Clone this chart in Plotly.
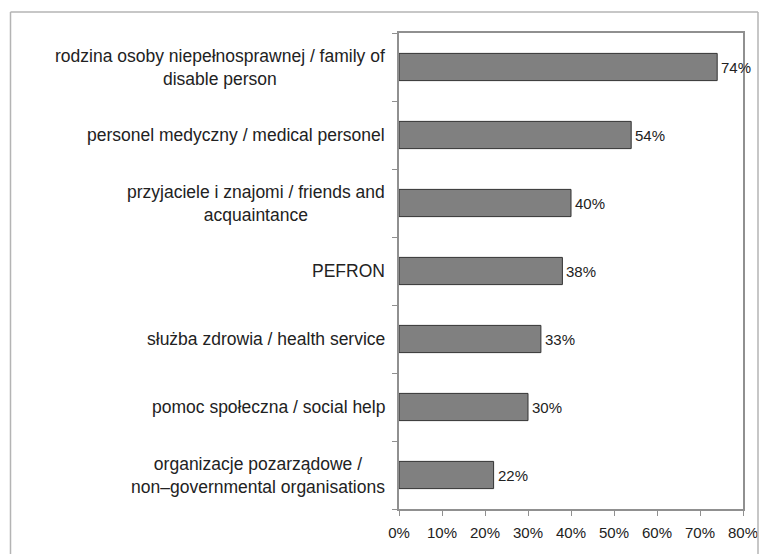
import plotly.graph_objects as go

# Sources of information, top to bottom
categories = [
    "rodzina osoby niepełnosprawnej / family of<br>disable person",
    "personel medyczny / medical personel",
    "przyjaciele i znajomi / friends and<br>acquaintance",
    "PEFRON",
    "służba zdrowia / health service",
    "pomoc społeczna / social help",
    "organizacje pozarządowe /<br>non–governmental organisations",
]
values = [74, 54, 40, 38, 33, 30, 22]
x_ticks = [0, 10, 20, 30, 40, 50, 60, 70, 80]

W, H = 759, 554
L, R, T, B = 399, 16, 33, 45
pw, ph = W - L - R, H - T - B

font_family = "Liberation Sans, Arial, sans-serif"
text_color = "#222222"

fig = go.Figure(
    go.Bar(
        y=categories,
        x=values,
        orientation="h",
        marker=dict(color="#808080", line=dict(color="#333333", width=1)),
        width=0.4,
        hoverinfo="x+y",
    )
)

# Category labels, centred line by line, block placed left of the axis
annotations = [
    dict(
        x=0, xref="paper", y=c, yref="y",
        text=c, showarrow=False, xanchor="right", align="center",
        xshift=-12,
        font=dict(family=font_family, size=17.5, color=text_color),
    )
    for c in categories
]
# Value labels just past the end of each bar
annotations += [
    dict(
        x=v, xref="x", y=c, yref="y",
        text=f"{v}%", showarrow=False, xanchor="left", xshift=2,
        font=dict(family=font_family, size=15, color=text_color),
    )
    for c, v in zip(categories, values)
]

# Outer chart frame
def px_x(p):
    return (p - L) / pw

def px_y(p):
    return 1 - (p - T) / ph

frame_color = "#b4b4b4"
shapes = [
    dict(type="line", xref="paper", yref="paper",
         x0=px_x(10.5), x1=px_x(758), y0=px_y(12), y1=px_y(12),
         line=dict(color=frame_color, width=1.5)),
    dict(type="line", xref="paper", yref="paper",
         x0=px_x(10.5), x1=px_x(10.5), y0=px_y(12), y1=px_y(560),
         line=dict(color=frame_color, width=1.5)),
    dict(type="line", xref="paper", yref="paper",
         x0=px_x(758), x1=px_x(758), y0=px_y(12), y1=px_y(560),
         line=dict(color=frame_color, width=1.5)),
]

fig.update_layout(
    width=W, height=H,
    margin=dict(l=L, r=R, t=T, b=B, autoexpand=False),
    paper_bgcolor="white",
    plot_bgcolor="white",
    showlegend=False,
    annotations=annotations,
    shapes=shapes,
    font=dict(family=font_family, size=15, color=text_color),
    xaxis=dict(
        range=[0, 80],
        tickvals=x_ticks,
        ticktext=[f"{t}%" for t in x_ticks],
        ticks="outside", ticklen=5, tickcolor="#909090",
        ticklabelstandoff=4,
        showgrid=False, zeroline=False, automargin=False,
        ticklabeloverflow="allow",
        showline=True, linecolor="#909090", linewidth=1.5, mirror=True,
        tickfont=dict(family=font_family, size=15, color=text_color),
    ),
    yaxis=dict(
        categoryorder="array",
        categoryarray=categories[::-1],
        showticklabels=False, automargin=False,
        ticks="outside", ticklen=5, tickcolor="#909090",
        tickson="boundaries",
        showgrid=False, zeroline=False,
        showline=True, linecolor="#909090", linewidth=1.5, mirror=True,
    ),
)

fig.write_html("out.html")
